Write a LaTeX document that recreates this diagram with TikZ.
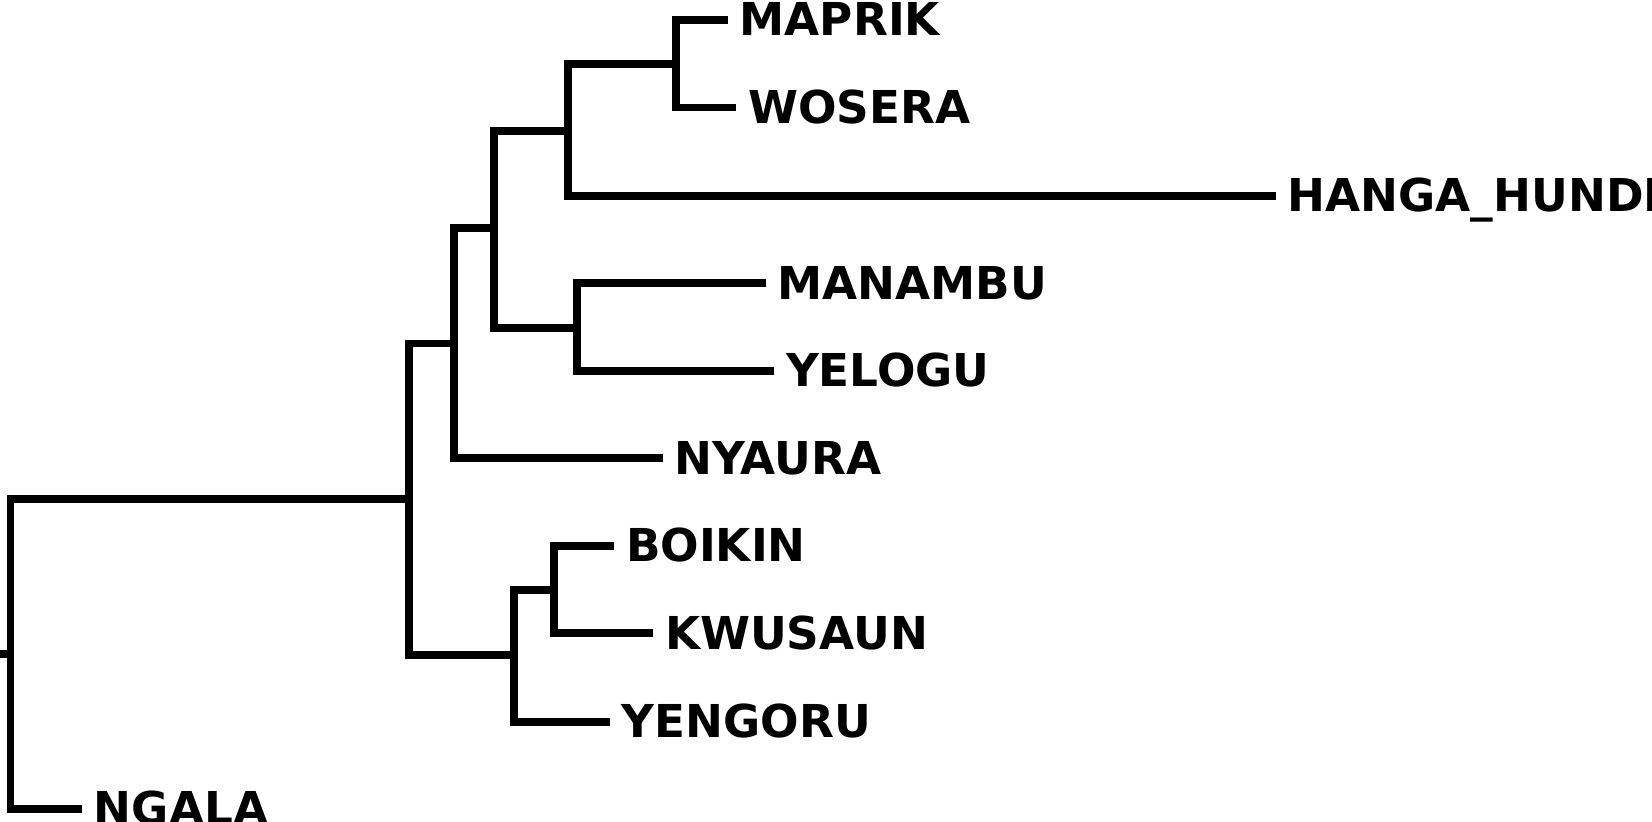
\documentclass[tikz,border=0pt]{standalone}
\usepackage{fontspec}
\setmainfont{DejaVu Sans}
\usepackage{tikz}
\usetikzlibrary{positioning}
\tikzstyle{branch} = [line width=7.5pt, line join=miter, black]
\tikzstyle{taxon} = [anchor=base west, inner sep=0pt, font=\fontsize{43}{50}\selectfont\bfseries]
\newcommand{\taxonlabel}[2]{\node (l#1) [taxon] at ([xshift=11pt,yshift=-15pt]#1) {#2};}

\begin{document}
\begin{tikzpicture}[x=1pt,y=1pt]
\clip (0,0) rectangle (1568,-780);
% inner nodes
\coordinate (stub) at (0,-621);
\coordinate (root) at (10,-621);
\coordinate (n1) at (388,-474);
\coordinate (n2) at (431,-326);
\coordinate (n3) at (469,-216);
\coordinate (n4) at (539,-124);
\coordinate (n5) at (642,-61);
\coordinate (n6) at (548,-311);
\coordinate (n7) at (488,-622);
\coordinate (n8) at (526,-560);
% leaf tips
\coordinate (maprik) at (691,-19);
\coordinate (wosera) at (699,-102);
\coordinate (hanga) at (1211,-186);
\coordinate (manambu) at (727,-269);
\coordinate (yelogu) at (735,-352);
\coordinate (nyaura) at (629,-435);
\coordinate (boikin) at (583,-518);
\coordinate (kwusaun) at (620,-601);
\coordinate (yengoru) at (579,-685);
\coordinate (ngala) at (78,-768);
% branches
\draw[branch] (stub) -- (root);
\draw[branch] (n1) -| (root);
\draw[branch] (ngala) -| (root);
\draw[branch] (n2) -| (n1);
\draw[branch] (n7) -| (n1);
\draw[branch] (n3) -| (n2);
\draw[branch] (nyaura) -| (n2);
\draw[branch] (n4) -| (n3);
\draw[branch] (n6) -| (n3);
\draw[branch] (n5) -| (n4);
\draw[branch] (hanga) -| (n4);
\draw[branch] (maprik) -| (n5);
\draw[branch] (wosera) -| (n5);
\draw[branch] (manambu) -| (n6);
\draw[branch] (yelogu) -| (n6);
\draw[branch] (n8) -| (n7);
\draw[branch] (yengoru) -| (n7);
\draw[branch] (boikin) -| (n8);
\draw[branch] (kwusaun) -| (n8);
% labels
\taxonlabel{maprik}{MAPRIK}
\taxonlabel{wosera}{WOSERA}
\taxonlabel{hanga}{HANGA\_HUNDI}
\taxonlabel{manambu}{MANAMBU}
\taxonlabel{yelogu}{YELOGU}
\taxonlabel{nyaura}{NYAURA}
\taxonlabel{boikin}{BOIKIN}
\taxonlabel{kwusaun}{KWUSAUN}
\taxonlabel{yengoru}{YENGORU}
\taxonlabel{ngala}{NGALA}
\end{tikzpicture}
\end{document}
